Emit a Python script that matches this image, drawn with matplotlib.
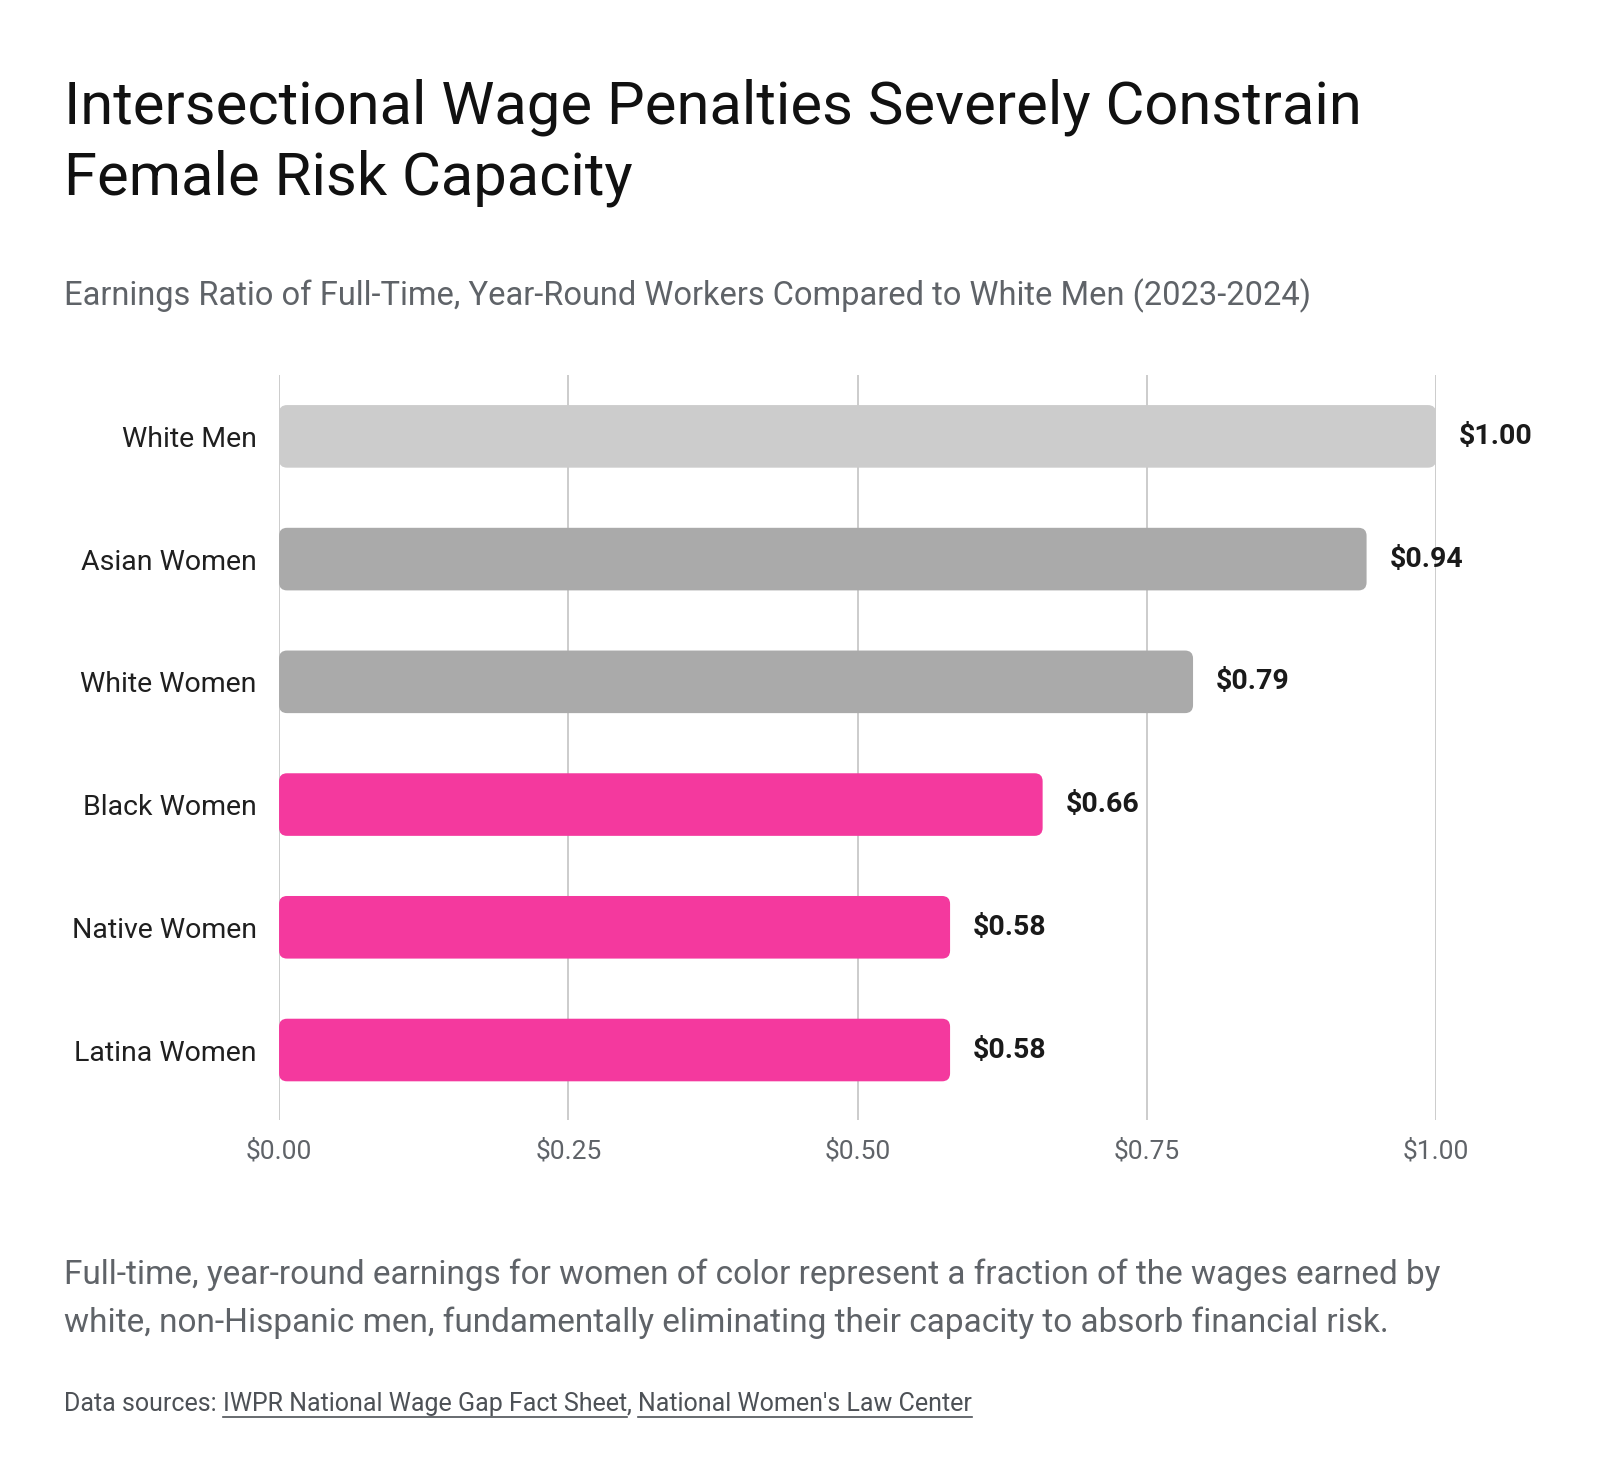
import matplotlib
matplotlib.use("Agg")
import matplotlib.pyplot as plt
from matplotlib.patches import FancyBboxPatch

# data
groups = ["White Men", "Asian Women", "White Women", "Black Women", "Native Women", "Latina Women"]
ratios = [1.00, 0.94, 0.79, 0.66, 0.58, 0.58]
colors = ["#cccccc", "#aaaaaa", "#aaaaaa", "#f4399e", "#f4399e", "#f4399e"]
xticks = [0.0, 0.25, 0.50, 0.75, 1.00]
sources = ["IWPR National Wage Gap Fact Sheet", "National Women's Law Center"]

plt.rcParams['font.family'] = ['Roboto', 'DejaVu Sans']

fig = plt.figure(figsize=(16, 14.84), dpi=100)
ax = fig.add_axes([0.1744, 0.2453, 0.7231, 0.502])

bars = ax.barh(range(len(groups)), ratios, height=0.51, color=colors)
ax.set_xlim(0, 1.0)
ax.set_ylim(5.57, -0.5)

# swap plain bars for rounded ones
fig.canvas.draw()
px_x = ax.transData.transform((1, 0))[0] - ax.transData.transform((0, 0))[0]
px_y = abs(ax.transData.transform((0, 1))[1] - ax.transData.transform((0, 0))[1])
aspect = px_x / px_y
for b in bars:
    x, y = b.get_x(), b.get_y()
    w, h = b.get_width(), b.get_height()
    b.set_visible(False)
    p = FancyBboxPatch((x, y), w, h,
                       boxstyle="round,pad=0,rounding_size=%f" % (8 / px_x),
                       mutation_aspect=aspect,
                       facecolor=b.get_facecolor(), edgecolor="none", zorder=3)
    ax.add_patch(p)

for i, v in enumerate(ratios):
    ax.text(v + 0.02, i, "$%.2f" % v, va="center", ha="left",
            fontsize=20.5, fontweight="bold", color="#1a1a1a")

ax.set_yticks(range(len(groups)))
ax.set_yticklabels(groups, fontsize=20.5, color="#1f1f1f")
ax.set_xticks(xticks)
ax.set_xticklabels(["$%.2f" % t for t in xticks], fontsize=19, color="#5f6368")
ax.tick_params(axis="both", length=0)
ax.tick_params(axis="y", pad=16)
ax.tick_params(axis="x", pad=14)
ax.grid(axis="x", color="#c8c8c8", linewidth=1.3, zorder=0)
ax.set_axisbelow(True)
for s in ax.spines.values():
    s.set_visible(False)

# title / subtitle
fig.text(0.04, 0.917, "Intersectional Wage Penalties Severely Constrain",
         fontsize=43, color="#111111", va="baseline", ha="left")
fig.text(0.04, 0.869, "Female Risk Capacity",
         fontsize=43, color="#111111", va="baseline", ha="left")
fig.text(0.04, 0.794, "Earnings Ratio of Full-Time, Year-Round Workers Compared to White Men (2023-2024)",
         fontsize=23.5, color="#5f6368", va="baseline", ha="left")

# footnote
fig.text(0.04, 0.1348, "Full-time, year-round earnings for women of color represent a fraction of the wages earned by",
         fontsize=24, color="#5f6368", va="baseline", ha="left")
fig.text(0.04, 0.1026, "white, non-Hispanic men, fundamentally eliminating their capacity to absorb financial risk.",
         fontsize=24, color="#5f6368", va="baseline", ha="left")

# sources line with underlined links
renderer = fig.canvas.get_renderer()
src_y = 0.049
pieces = [("Data sources: ", False), (sources[0], True), (", ", False), (sources[1], True)]
xpos = 0.04
for txt, link in pieces:
    t = fig.text(xpos, src_y, txt, fontsize=18, color="#4d5156", va="baseline", ha="left")
    bb = t.get_window_extent(renderer).transformed(fig.transFigure.inverted())
    if link:
        fig.add_artist(plt.Line2D([xpos, bb.x1], [src_y - 0.004, src_y - 0.004],
                                  transform=fig.transFigure, color="#4d5156", linewidth=1.2))
    xpos = bb.x1

fig.savefig("out.png", dpi=100, facecolor="white")
